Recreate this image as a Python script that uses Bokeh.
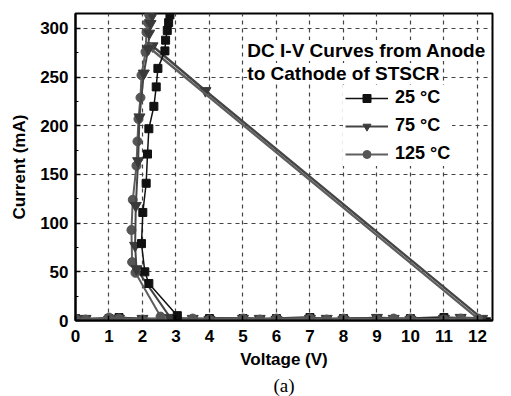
from bokeh.plotting import figure
from bokeh.models import Range1d, FixedTicker, Label, Legend, LegendItem, Title
from bokeh.embed import file_html
from bokeh.resources import INLINE

# ---- data (Voltage in V, Current in mA) ----
x_ticks = [0, 1, 2, 3, 4, 5, 6, 7, 8, 9, 10, 11, 12]
y_ticks = [0, 50, 100, 150, 200, 250, 300]
y_minor = [25, 75, 125, 175, 225, 275]

# pre-trigger (blocking) region, near 0 mA
v_low = [0.0, 0.3, 1.0, 1.3, 2.0, 3.0, 3.5, 4.0, 5.0, 5.5, 6.0, 7.0, 7.5, 8.0, 9.0, 9.5, 10.0, 11.0, 11.5]
i25_low = [2, 1, 2, 3, 1, 2, 1, 2, 2, 1, 2, 3, 1, 2, 2, 1, 2, 3, 2]
i75_low = [1, 2, 1, 2, 2, 1, 2, 1, 2, 2, 1, 2, 2, 1, 3, 2, 1, 2, 3]
i125_low = [2, 1, 3, 2, 1, 2, 2, 1, 2, 1, 2, 2, 1, 2, 1, 2, 2, 1, 2]

# end of blocking part + snapback (load line)
v25_end = [12.4]
i25_end = [2]
v75_snap = [12.14, 3.88, 2.30]
i75_snap = [2, 236, 282]
v125_snap = [12.02, 2.18]
i125_snap = [2, 281]

# on-state branches
v25 = [3.04, 2.19, 2.07, 1.97, 2.01, 2.11, 2.15, 2.19, 2.34, 2.41, 2.46, 2.67, 2.69, 2.74, 2.78, 2.82]
i25 = [5, 38, 50, 79, 111, 141, 171, 197, 220, 240, 259, 277, 288, 298, 306, 314]
v75 = [2.83, 1.82, 1.78, 1.80, 1.87, 1.91, 2.04, 2.17, 2.20, 2.24, 2.30]
i75 = [3, 53, 77, 118, 164, 209, 254, 279, 295, 305, 314]
v125 = [2.54, 1.79, 1.69, 1.67, 1.71, 1.82, 1.85, 1.88, 1.94, 1.97, 2.09, 2.12, 2.16, 2.20]
i125 = [4, 49, 60, 93, 124, 159, 184, 207, 229, 252, 276, 296, 306, 314]

labels = ["25 \u00b0C", "75 \u00b0C", "125 \u00b0C"]

FONT = "Liberation Sans"

p = figure(width=511, height=396, output_backend="svg", toolbar_location=None,
           x_range=Range1d(0, 12.45), y_range=Range1d(0, 315.4),
           min_border_left=75, min_border_right=19, min_border_top=13, min_border_bottom=76)
p.background_fill_color = "white"
p.border_fill_color = "white"
p.outline_line_color = "black"
p.outline_line_width = 2

# axes
p.xaxis.ticker = FixedTicker(ticks=x_ticks, minor_ticks=[])
p.yaxis.ticker = FixedTicker(ticks=y_ticks, minor_ticks=y_minor)
for ax in (p.xaxis[0], p.yaxis[0]):
    ax.axis_line_color = "black"
    ax.axis_line_width = 2
    ax.major_tick_in = 5
    ax.major_tick_out = 0
    ax.minor_tick_in = 3
    ax.minor_tick_out = 0
    ax.major_tick_line_width = 1.5
    ax.major_label_text_font = FONT
    ax.major_label_text_font_style = "bold"
    ax.major_label_text_font_size = "17px"
    ax.major_label_text_color = "black"
    ax.axis_label_text_font = FONT
    ax.axis_label_text_font_style = "bold"
    ax.axis_label_text_font_size = "17px"
    ax.axis_label_text_color = "black"
p.xaxis.axis_label = "Voltage (V)"
p.yaxis.axis_label = "Current (mA)"
p.xaxis.major_label_standoff = 9
p.xaxis.axis_label_standoff = 5
p.yaxis.major_label_standoff = 7
p.yaxis.axis_label_standoff = 8

# grid
p.xgrid.ticker = FixedTicker(ticks=x_ticks[1:])
p.ygrid.ticker = FixedTicker(ticks=y_ticks[1:])
for g in (p.xgrid[0], p.ygrid[0]):
    g.grid_line_color = "#444444"
    g.grid_line_dash = "4 4"
    g.grid_line_width = 1.2

C25, C75, C125 = "#111111", "#3a3a3a", "#555555"
L75, L125 = "#454545", "#5e5e5e"

# blocking + snapback lines
p.line(v_low + v25_end, i25_low + i25_end, color=C25, line_width=2.5)
p.scatter(v_low, i25_low, marker="square", size=8, color=C25)
p.line(v_low + v75_snap, i75_low + i75_snap, color=L75, line_width=2.4)
p.scatter(v_low + v75_snap, i75_low + i75_snap, marker="inverted_triangle", size=11, color=C75)
p.line(v_low + v125_snap, i125_low + i125_snap, color=L125, line_width=2.4)
p.scatter(v_low + v125_snap, i125_low + i125_snap, marker="circle", size=9, color=C125)

# on-state branches
r125l = p.line(v125, i125, color=L125, line_width=2)
r125m = p.scatter(v125, i125, marker="circle", size=9, color=C125)
r75l = p.line(v75, i75, color=L75, line_width=2)
r75m = p.scatter(v75, i75, marker="inverted_triangle", size=11, color=C75)
r25l = p.line(v25, i25, color=C25, line_width=1.5)
r25m = p.scatter(v25, i25, marker="square", size=8, color=C25)

legend = Legend(items=[LegendItem(label=labels[0], renderers=[r25l, r25m]),
                       LegendItem(label=labels[1], renderers=[r75l, r75m]),
                       LegendItem(label=labels[2], renderers=[r125l, r125m])],
                location=(268, 154))
legend.glyph_width = 43
legend.glyph_height = 20
legend.label_height = 20
legend.spacing = 7
legend.padding = 2
legend.margin = 0
legend.label_standoff = 7
legend.border_line_alpha = 0
legend.background_fill_color = "white"
legend.background_fill_alpha = 1
legend.label_text_font = FONT
legend.label_text_font_style = "bold"
legend.label_text_font_size = "18px"
legend.label_text_color = "black"
p.add_layout(legend, "center")

for txt, yy in (("DC I-V Curves from Anode", 277.4), ("to Cathode of STSCR", 253.8)):
    p.add_layout(Label(x=5.13, y=yy, text=txt, text_font=FONT, text_font_style="bold",
                       text_font_size="19px", text_baseline="middle", text_align="left",
                       text_color="black", background_fill_color="white",
                       background_fill_alpha=1))

p.add_layout(Title(text="(a)", align="center", text_font="Liberation Serif",
                   text_font_size="19px", text_font_style="normal", text_color="black",
                   standoff=2), "below")

open("out.html", "w").write(file_html(p, INLINE))
